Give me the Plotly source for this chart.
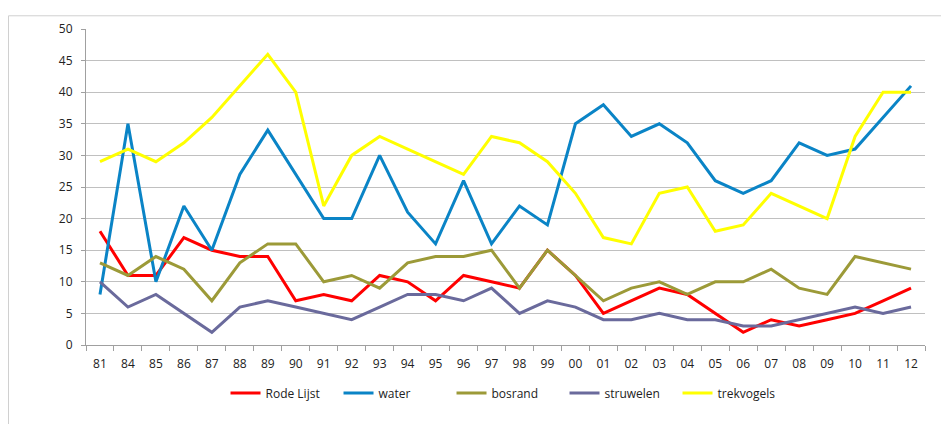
import plotly.graph_objects as go

years = ["81","84","85","86","87","88","89","90","91","92","93","94","95","96","97","98","99",
         "00","01","02","03","04","05","06","07","08","09","10","11","12"]

rode_lijst = [18,11,11,17,15,14,14,7,8,7,11,10,7,11,10,9,15,11,5,7,9,8,5,2,4,3,4,5,7,9]
water      = [8,35,10,22,15,27,34,27,20,20,30,21,16,26,16,22,19,35,38,33,35,32,26,24,26,32,30,31,36,41]
bosrand    = [13,11,14,12,7,13,16,16,10,11,9,13,14,14,15,9,15,11,7,9,10,8,10,10,12,9,8,14,13,12]
struwelen  = [10,6,8,5,2,6,7,6,5,4,6,8,8,7,9,5,7,6,4,4,5,4,4,3,3,4,5,6,5,6]
trekvogels = [29,31,29,32,36,41,46,40,22,30,33,31,29,27,33,32,29,24,17,16,24,25,18,19,24,22,20,33,40,40]

series = [
    ("Rode Lijst", rode_lijst, "#FF0000"),
    ("water", water, "#0A84C6"),
    ("bosrand", bosrand, "#9C9A38"),
    ("struwelen", struwelen, "#6A6A9C"),
    ("trekvogels", trekvogels, "#FFFF00"),
]

FONT = "Open Sans, sans-serif"

fig = go.Figure()
for name, vals, color in series:
    fig.add_trace(go.Scatter(x=years, y=vals, mode="lines", name=name,
                             line=dict(color=color, width=3)))

W, H = 941, 416
L, T, R, B = 78, 14, 24, 79
pw, ph = W - L - R, H - T - B

fig.update_layout(
    width=W, height=H,
    margin=dict(l=L, r=R, t=T, b=B),
    paper_bgcolor="white", plot_bgcolor="white",
    font=dict(family=FONT, size=12, color="#222222"),
    showlegend=True,
    legend=dict(orientation="h", x=0.503, xanchor="center", y=-0.152, yanchor="middle",
                font=dict(family=FONT, size=12, color="#222222"),
                itemwidth=30, traceorder="normal",
                entrywidth=68, entrywidthmode="pixels"),
    xaxis=dict(type="category", range=[-0.5, len(years) - 0.5],
               showgrid=False, showline=True, linecolor="#A0A0A0", linewidth=1,
               ticks="outside", tickson="boundaries", ticklen=5, tickcolor="#A0A0A0",
               ticklabelstandoff=8, fixedrange=True),
    yaxis=dict(range=[0, 50], dtick=5, showgrid=True, gridcolor="#C0C0C0", gridwidth=1,
               showline=True, linecolor="#A0A0A0", linewidth=1,
               ticks="outside", ticklen=4, tickcolor="#A0A0A0", zeroline=False,
               ticklabelstandoff=6),
    shapes=[dict(type="rect", xref="paper", yref="paper",
                 x0=(0.5 - L) / pw, x1=(935 - L) / pw,
                 y0=-0.4, y1=(ph + T - 0.5) / ph,
                 line=dict(color="#D0D0D0", width=1), layer="below")],
)

fig.write_html("out.html")
